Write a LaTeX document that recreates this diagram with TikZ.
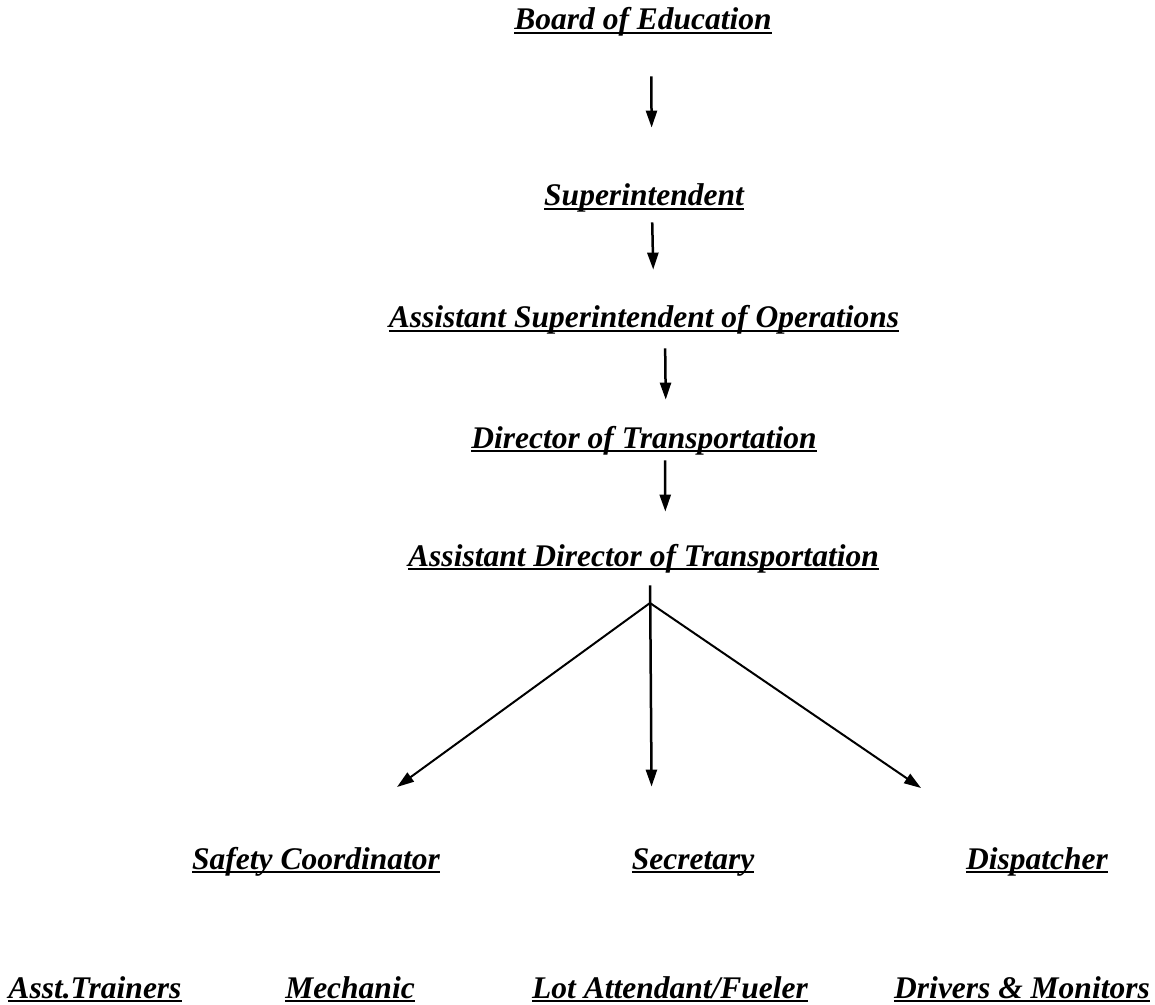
\documentclass[tikz,border=0pt]{standalone}
\usepackage{fontspec}
\setmainfont{Liberation Serif}
\usetikzlibrary{arrows.meta,positioning,calc}
\newcommand\ulbox[1]{\sbox0{#1}\rlap{\rule[-0.13em]{\wd0}{0.08em}}\box0}

\begin{document}
\begin{tikzpicture}[
  x=0.5pt,y=-0.5pt,
  >=Triangle,
  title/.style={inner sep=0pt,anchor=base,text height=11pt,text depth=3pt,font=\bfseries\itshape\fontsize{15.75}{19}\selectfont},
  down/.style={->,line width=1.25pt,>={Triangle[length=8.5pt,width=5.5pt]}},
  fan/.style={->,line width=1pt,>={Triangle[length=8.5pt,width=5.5pt]}}
]
  \useasboundingbox (0,0) rectangle (1155,1005);

  \node[title] (board) at (643,30) {\ulbox{Board of Education}};
  \node[title] (super) at (644,206) {\ulbox{Superintendent}};
  \node[title] (ops) at (644,328) {\ulbox{Assistant Superintendent of Operations}};
  \node[title] (dir) at (644,448) {\ulbox{Director of Transportation}};
  \node[title] (adir) at (643.5,566) {\ulbox{Assistant Director of Transportation}};

  \node[title] (safety) at (316,869) {\ulbox{Safety Coordinator}};
  \node[title] (secretary) at (693,869) {\ulbox{Secretary}};
  \node[title] (dispatcher) at (1037,869) {\ulbox{Dispatcher}};

  \node[title] (trainers) at (95,998) {\ulbox{Asst.Trainers}};
  \node[title] (mechanic) at (350,998) {\ulbox{Mechanic}};
  \node[title] (lot) at (670,998) {\ulbox{Lot Attendant/Fueler}};
  \node[title] (drivers) at (1022,998) {\ulbox{Drivers \& Monitors}};

  \draw[down,shorten <=20pt,shorten >=28pt] ([xshift=4pt]board.south) -- ([xshift=4pt]super.north);
  \draw[down,shorten <=5pt,shorten >=18pt] ([xshift=4pt]super.south) -- ([xshift=5pt]ops.north);
  \draw[down,shorten <=7pt,shorten >=13pt] ([xshift=10.5pt]ops.south) -- ([xshift=11pt]dir.north);
  \draw[down,shorten <=3pt,shorten >=16pt] ([xshift=10.5pt]dir.south) -- ([xshift=11pt]adir.north);

  \coordinate (hub) at (650,603);
  \coordinate (tipL) at (397,787);
  \coordinate (tipR) at (921,788);
  \draw[fan,line width=1.25pt,shorten <=6.5pt,shorten >=30pt] ([xshift=3.25pt]adir.south) -- ([xshift=-20.5pt]secretary.north);
  \draw[fan] (hub) -- (tipL);
  \draw[fan] (hub) -- (tipR);
\end{tikzpicture}
\end{document}
